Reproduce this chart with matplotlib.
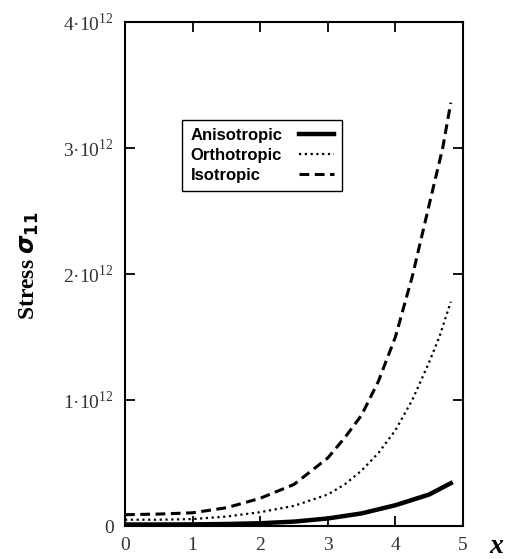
import matplotlib.pyplot as plt
from matplotlib.ticker import FixedLocator

# values (stress in units of 1e12)
x_iso = [0, 0.5, 1, 1.5, 2, 2.5, 3, 3.25, 3.5, 3.75, 4, 4.25, 4.5, 4.7, 4.82]
y_iso = [0.09, 0.095, 0.105, 0.145, 0.22, 0.33, 0.54, 0.70, 0.88, 1.15, 1.5, 1.98, 2.55, 3.0, 3.36]

x_ortho = [0, 0.5, 1, 1.5, 2, 2.5, 3, 3.25, 3.5, 3.75, 4, 4.25, 4.5, 4.65, 4.82]
y_ortho = [0.05, 0.05, 0.055, 0.075, 0.11, 0.16, 0.25, 0.33, 0.44, 0.58, 0.76, 1.0, 1.3, 1.5, 1.78]

x_aniso = [0, 0.5, 1, 1.5, 2, 2.5, 3, 3.5, 4, 4.5, 4.82]
y_aniso = [0.012, 0.012, 0.013, 0.016, 0.022, 0.035, 0.06, 0.1, 0.165, 0.25, 0.34]

x_ticks = [0, 1, 2, 3, 4, 5]
y_ticks = [0, 1, 2, 3, 4]
y_tick_labels = ['0', '1·10$^{12}$', '2·10$^{12}$', '3·10$^{12}$', '4·10$^{12}$']

plt.rcParams['mathtext.fontset'] = 'custom'
plt.rcParams['mathtext.rm'] = 'Liberation Serif'
plt.rcParams['mathtext.bf'] = 'DejaVu Sans:bold'

fig = plt.figure(figsize=(5.11, 5.59), dpi=100)
ax = fig.add_axes([0.2446, 0.059, 0.6614, 0.9016])

scale = 1e12
ax.plot(x_aniso, [v * scale for v in y_aniso], color='black', lw=3.2, label='Anisotropic')
ax.plot(x_ortho, [v * scale for v in y_ortho], color='black', lw=1.6, linestyle=(0, (1, 1.6)),
        label='Orthotropic')
ax.plot(x_iso, [v * scale for v in y_iso], color='black', lw=2.2, linestyle=(0, (3.2, 1.8)),
        label='Isotropic')

ax.set_xlim(0, 5)
ax.set_ylim(0, 4 * scale)
ax.xaxis.set_major_locator(FixedLocator(x_ticks))
ax.yaxis.set_major_locator(FixedLocator([v * scale for v in y_ticks]))
ax.set_xticklabels([str(t) for t in x_ticks])
ax.set_yticklabels(y_tick_labels)
ax.tick_params(direction='in', length=7, width=1.3, top=True, right=True,
               labelsize=14, colors='black', labelcolor='#333333')
ax.tick_params(axis='x', pad=8)
ax.tick_params(axis='y', pad=8)
for lab in ax.get_xticklabels() + ax.get_yticklabels():
    lab.set_family('Liberation Serif')
for sp in ax.spines.values():
    sp.set_linewidth(1.5)

leg = ax.legend(loc='upper left', bbox_to_anchor=(0.169, 0.806), markerfirst=False,
                fancybox=False, edgecolor='black', framealpha=1, handlelength=2.1,
                prop={'family': 'Liberation Sans', 'weight': 'bold', 'size': 12},
                borderpad=0.5, labelspacing=0.3, borderaxespad=0, handletextpad=1.0)
leg.get_frame().set_linewidth(1.0)

# left-align the legend labels, keep the handles lined up on the right
fig.canvas.draw()
rend = fig.canvas.get_renderer()
texts = leg.get_texts()
widths = [t.get_window_extent(rend).width for t in texts]
rows = [r for col in leg._legend_handle_box.get_children() for r in col.get_children()]
for row, w in zip(rows, widths):
    row.sep = row.sep + (max(widths) - w) * 72.0 / fig.dpi

fig.text(0.058, 0.525, r'Stress $\boldsymbol{\sigma}_{\mathbf{11}}$', rotation=90, ha='center',
         va='center', fontsize=17, fontweight='bold', family='Liberation Serif')
fig.text(0.972, 0.022, 'x', ha='center', va='center', fontsize=20, fontweight='bold',
         fontstyle='italic', family='Liberation Serif')

fig.savefig('out.png', dpi=100)
